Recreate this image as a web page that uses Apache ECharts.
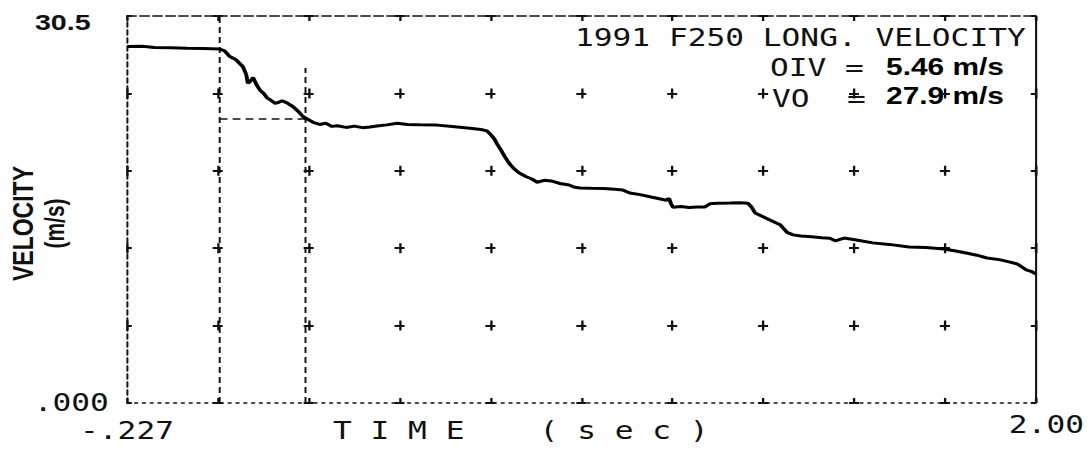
<!DOCTYPE html>
<html>
<head>
<meta charset="utf-8">
<title>1991 F250 LONG. VELOCITY</title>
<script src="https://cdn.jsdelivr.net/npm/echarts@6/dist/echarts.min.js"></script>
<style>
  html, body { margin: 0; padding: 0; background: #fff; overflow: hidden; }
  #sheet { height: 460px; transform-origin: 0 0; }
</style>
</head>
<body>
<div id="sheet"></div>
<script>
// Longitudinal velocity trace (time in s, velocity in m/s)
const timeSec = [
  -0.227, -0.19, -0.16, -0.12, -0.08, -0.04, 0.0, 0.012, 0.025, 0.04,
  0.057, 0.065, 0.069, 0.075, 0.082, 0.09, 0.099, 0.108, 0.116, 0.126,
  0.136, 0.145, 0.153, 0.165, 0.18, 0.192, 0.204, 0.211, 0.22, 0.229,
  0.245, 0.26, 0.275, 0.288, 0.31, 0.33, 0.35, 0.368, 0.39, 0.41,
  0.435, 0.46, 0.49, 0.533, 0.57, 0.613, 0.64, 0.655, 0.664, 0.672,
  0.68, 0.689, 0.699, 0.709, 0.72, 0.733, 0.75, 0.765, 0.778, 0.795,
  0.812, 0.834, 0.856, 0.87, 0.883, 0.91, 0.94, 0.968, 0.988, 1.005,
  1.03, 1.057, 1.08, 1.094, 1.101, 1.106, 1.111, 1.13, 1.15, 1.17,
  1.189, 1.201, 1.22, 1.25, 1.275, 1.294, 1.303, 1.312, 1.33, 1.356,
  1.373, 1.39, 1.405, 1.424, 1.45, 1.475, 1.495, 1.508, 1.53, 1.56,
  1.6, 1.64, 1.689, 1.73, 1.775, 1.80, 1.829, 1.855, 1.88, 1.91,
  1.934, 1.955, 1.976, 1.99, 2.0
];
const velocity = [
  28.10, 28.12, 28.02, 28.00, 27.95, 27.93, 27.90, 27.75, 27.30, 27.05,
  26.50, 25.90, 25.20, 25.35, 25.65, 25.10, 24.65, 24.40, 24.05, 23.85,
  23.62, 23.70, 23.82, 23.65, 23.35, 23.00, 22.58, 22.44, 22.28, 22.12,
  21.95, 22.05, 21.80, 21.85, 21.72, 21.82, 21.70, 21.76, 21.85, 21.92,
  22.05, 21.95, 21.92, 21.90, 21.80, 21.65, 21.55, 21.45, 21.15, 20.85,
  20.40, 19.95, 19.40, 18.90, 18.50, 18.15, 17.85, 17.65, 17.40, 17.55,
  17.50, 17.30, 17.18, 17.00, 16.94, 16.92, 16.90, 16.85, 16.78, 16.55,
  16.42, 16.23, 16.08, 15.98, 16.12, 15.70, 15.42, 15.48, 15.40, 15.45,
  15.45, 15.70, 15.74, 15.76, 15.78, 15.74, 15.45, 14.97, 14.70, 14.30,
  14.05, 13.45, 13.25, 13.16, 13.10, 13.02, 12.98, 12.78, 13.00, 12.85,
  12.62, 12.50, 12.30, 12.25, 12.14, 12.00, 11.82, 11.65, 11.43, 11.30,
  11.12, 10.95, 10.50, 10.35, 10.17
];

// Axis ranges and the labels printed at their ends
const xRange = [-0.227, 2.00];
const yRange = [0, 30.5];
const xTickLabels = ['-.227', '2.00'];
const yTickLabels = ['.000', '30.5'];
const xDivisions = 10;
const yDivisions = 5;

// Test results printed on the sheet
const testTitle = '1991 F250 LONG. VELOCITY';
const impactVelocity = 27.9;          // VO, m/s
const occupantImpactVelocity = 5.46;  // OIV, m/s
const flightTime = 0.211;             // s, when the occupant has moved through OIV

// The plotter sheet is drawn narrow and stretched sideways, like the printed page
const STRETCH = 1.3;
const PAGE_W = 1089, PAGE_H = 460;
const sheetW = PAGE_W / STRETCH;
const sx = v => v / STRETCH;   // page x -> sheet x

const gridLeft = sx(127), gridTop = 16;
const gridW = sx(909), gridH = 387;

const plotterFont = '"DejaVu Sans Mono", monospace';
const boldFont = '"Liberation Sans", Arial, sans-serif';

const dom = document.getElementById('sheet');
dom.style.width = sheetW + 'px';
dom.style.transform = 'scaleX(' + STRETCH + ')';

const chart = echarts.init(dom, null, { renderer: 'svg', width: sheetW, height: PAGE_H });

// Split lines are cut into short dashes so that only "+" marks remain at the grid crossings
const armV = 5, armH = sx(5);
const stepV = gridH / yDivisions, stepH = gridW / xDivisions;

const seriesData = timeSec.map((t, i) => [t, velocity[i]]);
const residual = impactVelocity - occupantImpactVelocity;

const option = {
  animation: false,
  backgroundColor: '#fff',
  grid: {
    left: gridLeft, top: gridTop, width: gridW, height: gridH,
    containLabel: false, outerBoundsMode: 'none'
  },
  xAxis: [
    {
      type: 'value', position: 'bottom',
      min: xRange[0], max: xRange[1], interval: (xRange[1] - xRange[0]) / xDivisions,
      axisLine: { show: true, onZero: false, lineStyle: { color: '#111', width: 1.5, type: [2, 4] } },
      axisTick: { show: false },
      splitLine: { show: true, lineStyle: { color: '#111', width: 1.8, type: [armV * 2, stepV - armV * 2], dashOffset: armV } },
      axisLabel: {
        show: true, margin: 10, color: '#111',
        fontFamily: plotterFont, fontSize: 24,
        showMinLabel: true, showMaxLabel: true,
        hideOverlap: false,
        formatter: (value, index) => {
          if (index === 0) return '{start|' + xTickLabels[0] + '}';
          if (Math.abs(value - xRange[1]) < 1e-6) return '{end|' + xTickLabels[1] + '}';
          return '';
        },
        rich: {
          start: { fontFamily: plotterFont, fontSize: 24, color: '#111', padding: [6, 0, 0, 0] },
          end: { fontFamily: plotterFont, fontSize: 24, color: '#111', padding: [0, 0, 0, 16] }
        }
      }
    },
    {
      type: 'value', position: 'top',
      min: xRange[0], max: xRange[1], interval: (xRange[1] - xRange[0]) / xDivisions,
      axisLine: { show: true, onZero: false, lineStyle: { color: '#111', width: 1.5, type: [7, 3] } },
      axisTick: { show: false }, axisLabel: { show: false }, splitLine: { show: false }
    }
  ],
  yAxis: [
    {
      type: 'value', position: 'left',
      min: yRange[0], max: yRange[1], interval: (yRange[1] - yRange[0]) / yDivisions,
      axisLine: { show: true, onZero: false, lineStyle: { color: '#111', width: 1.5, type: [5, 3] } },
      axisTick: { show: false },
      splitLine: { show: true, lineStyle: { color: '#111', width: 1.8, type: [armH * 2, stepH - armH * 2], dashOffset: armH } },
      axisLabel: {
        show: true, margin: 14, color: '#111',
        showMinLabel: true, showMaxLabel: true,
        hideOverlap: false,
        formatter: (value) => {
          if (value === yRange[0]) return '{bot|' + yTickLabels[0] + '}';
          if (Math.abs(value - yRange[1]) < 1e-6) return '{top|' + yTickLabels[1] + '}';
          return '';
        },
        rich: {
          bot: { fontFamily: plotterFont, fontSize: 24, color: '#111' },
          top: { fontFamily: boldFont, fontWeight: 'bold', fontSize: 22, color: '#111', padding: [12, 14, 0, 0] }
        }
      },
      name: '{a|VELOCITY}\n{b|(m/s)}',
      nameLocation: 'middle',
      nameRotate: 90,
      nameGap: 44,
      nameMoveOverlap: false,
      nameTextStyle: {
        padding: [0, 28, 0, 0],
        lineHeight: 24,
        rich: {
          a: { fontFamily: boldFont, fontWeight: 'bold', fontSize: 23, color: '#111', lineHeight: 24 },
          b: { fontFamily: boldFont, fontWeight: 'bold', fontSize: 21, color: '#111', lineHeight: 24 }
        }
      }
    },
    {
      type: 'value', position: 'right',
      min: yRange[0], max: yRange[1], interval: (yRange[1] - yRange[0]) / yDivisions,
      axisLine: { show: true, onZero: false, lineStyle: { color: '#111', width: 1.6 } },
      axisTick: { show: false }, axisLabel: { show: false }, splitLine: { show: false }
    }
  ],
  series: [
    {
      type: 'line',
      xAxisIndex: 0, yAxisIndex: 0,
      data: seriesData,
      showSymbol: false,
      symbol: 'none',
      smooth: false,
      lineStyle: { color: '#000', width: 3 },
      z: 5,
      markLine: {
        silent: true,
        symbol: ['none', 'none'],
        label: { show: false },
        lineStyle: { color: '#111', width: 1.5, type: [6, 4] },
        data: [
          { xAxis: 0 },
          [{ coord: [flightTime, yRange[0]] }, { coord: [flightTime, 26.4] }],
          [{ coord: [0, residual] }, { coord: [flightTime, residual] }]
        ]
      }
    }
  ],
  graphic: [
    {
      type: 'text', x: sx(575), y: 38,
      style: { text: testTitle, font: '24px ' + plotterFont, fill: '#111', verticalAlign: 'middle', textAlign: 'left' }
    },
    {
      type: 'text', x: sx(770), y: 68,
      style: { text: 'OIV =', font: '24px ' + plotterFont, fill: '#111', verticalAlign: 'middle', textAlign: 'left' }
    },
    {
      type: 'text', x: sx(1004), y: 67,
      style: { text: occupantImpactVelocity.toFixed(2) + ' m/s', font: 'bold 23px ' + boldFont, fill: '#000', verticalAlign: 'middle', textAlign: 'right' }
    },
    {
      type: 'text', x: sx(772), y: 99,
      style: { text: 'VO  =', font: '24px ' + plotterFont, fill: '#111', verticalAlign: 'middle', textAlign: 'left' }
    },
    {
      type: 'text', x: sx(1004), y: 96,
      style: { text: impactVelocity.toFixed(1) + ' m/s', font: 'bold 23px ' + boldFont, fill: '#000', verticalAlign: 'middle', textAlign: 'right' }
    },
    {
      type: 'text', x: sx(333), y: 431,
      style: { text: 'T I M E    ( s e c )', font: '24px ' + plotterFont, fill: '#111', verticalAlign: 'middle', textAlign: 'left' }
    }
  ]
};

chart.setOption(option);
</script>
</body>
</html>
